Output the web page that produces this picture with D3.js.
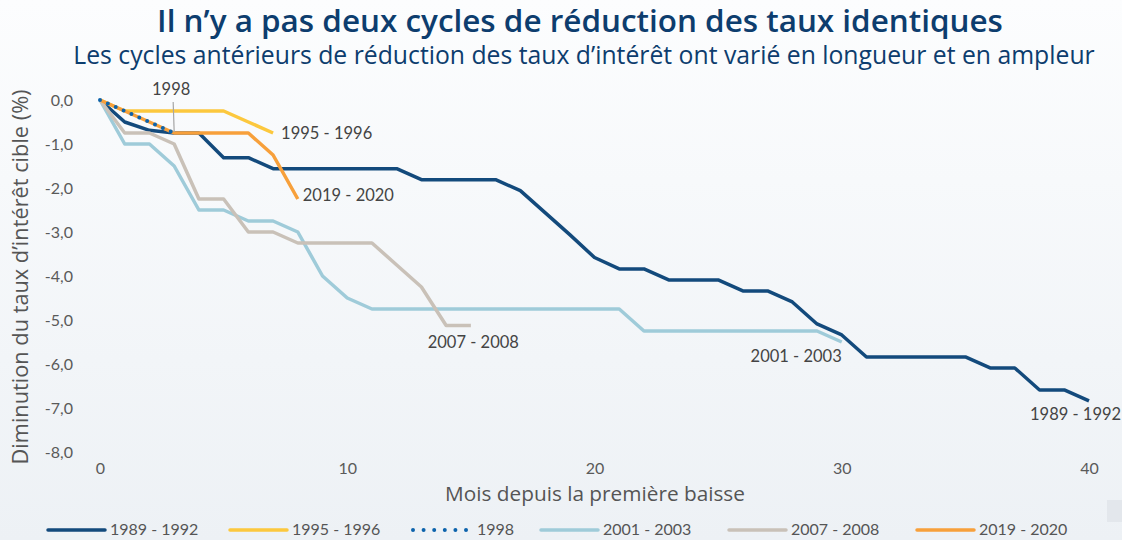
<!DOCTYPE html>
<html>
<head>
<meta charset="utf-8">
<script src="https://cdn.jsdelivr.net/npm/d3@7"></script>
<style>
  html, body { margin: 0; padding: 0; }
  body { width: 1122px; height: 540px; overflow: hidden; }
  svg { display: block; }
</style>
</head>
<body>
<svg id="chart"></svg>
<script>
// months since first cut
const months = d3.range(0, 41);

// cumulative change in target rate (%), one value per month
const cycle1989 = [0, -0.5, -0.69, -0.75, -0.75, -1.31, -1.31, -1.56, -1.56, -1.56, -1.56, -1.56, -1.56,
  -1.81, -1.81, -1.81, -1.81, -2.06, -2.56, -3.06, -3.58, -3.84, -3.84, -4.09, -4.09, -4.09,
  -4.34, -4.34, -4.59, -5.09, -5.34, -5.84, -5.84, -5.84, -5.84, -5.84, -6.09, -6.09, -6.59, -6.59, -6.84];
const cycle1995 = [0, -0.25, -0.25, -0.25, -0.25, -0.25, -0.5, -0.75];
const cycle1998 = [0, -0.25, -0.5, -0.75];
const cycle2001 = [0, -1.0, -1.0, -1.5, -2.5, -2.5, -2.75, -2.75, -3.0, -4.0, -4.5, -4.75, -4.75, -4.75,
  -4.75, -4.75, -4.75, -4.75, -4.75, -4.75, -4.75, -4.75, -5.25, -5.25, -5.25, -5.25, -5.25,
  -5.25, -5.25, -5.25, -5.5];
const cycle2007 = [0, -0.75, -0.75, -1.0, -2.25, -2.25, -3.0, -3.0, -3.25, -3.25, -3.25, -3.25, -3.75,
  -4.25, -5.125, -5.125];
const cycle2019 = [0, -0.25, -0.5, -0.75, -0.75, -0.75, -0.75, -1.25, -2.25];

const seriesNames = ['1989 - 1992', '1995 - 1996', '1998', '2001 - 2003', '2007 - 2008', '2019 - 2020'];
const seriesValues = [cycle1989, cycle1995, cycle1998, cycle2001, cycle2007, cycle2019];
const seriesColors = ['#134a7c', '#fcc83e', '#0c63ac', '#9fcbd9', '#c9c1b8', '#f7a03b'];

const xTicks = [0, 10, 20, 30, 40];
const yTicks = [0, -1, -2, -3, -4, -5, -6, -7, -8];

const width = 1122, height = 540;
const margin = { top: 100, right: 33, bottom: 88, left: 100 };

const locale = d3.formatLocale({ decimal: ',', thousands: ' ', grouping: [3], currency: ['', ' €'], minus: '-' });
const fmtY = locale.format('.1f');

const svg = d3.select('#chart')
  .attr('width', width)
  .attr('height', height)
  .style('font-family', 'Lato, "Open Sans", sans-serif');

// soft background gradient
const grad = svg.append('defs').append('linearGradient')
  .attr('id', 'bg')
  .attr('x1', 0).attr('y1', 0).attr('x2', 0).attr('y2', 1);
grad.append('stop').attr('offset', '0%').attr('stop-color', '#fcfdfe');
grad.append('stop').attr('offset', '100%').attr('stop-color', '#edf1f5');
svg.append('rect').attr('width', width).attr('height', height).attr('fill', 'url(#bg)');

const x = d3.scaleLinear()
  .domain([0, 40])
  .range([margin.left, width - margin.right]);

const y = d3.scaleLinear()
  .domain([-8, 0])
  .range([height - margin.bottom, margin.top]);

// scale a text's font so it spans the width seen in the original
const fitWidth = (sel, target) => {
  const size = parseFloat(sel.style('font-size'));
  const len = sel.node().getComputedTextLength();
  sel.style('font-size', `${(size * target / len).toFixed(2)}px`);
};

// titles
svg.append('text')
  .attr('x', 580).attr('y', 32)
  .attr('text-anchor', 'middle')
  .attr('fill', '#0d3d6e')
  .style('font-family', '"Open Sans", sans-serif')
  .style('font-size', '27px')
  .style('font-weight', 600)
  .text('Il n’y a pas deux cycles de réduction des taux identiques')
  .call(fitWidth, 846);

svg.append('text')
  .attr('x', 584).attr('y', 64)
  .attr('text-anchor', 'middle')
  .attr('fill', '#0d3d6e')
  .style('font-family', '"Open Sans", sans-serif')
  .style('font-size', '21px')
  .text('Les cycles antérieurs de réduction des taux d’intérêt ont varié en longueur et en ampleur')
  .call(fitWidth, 1022);

// axes
const yAxis = (g) => g
  .attr('transform', `translate(${margin.left},0)`)
  .call(d3.axisLeft(y).tickValues(yTicks).tickFormat(fmtY).tickSize(0).tickPadding(27))
  .call((g) => g.select('.domain').remove());

const xAxis = (g) => g
  .attr('transform', `translate(0,${height - margin.bottom})`)
  .call(d3.axisBottom(x).tickValues(xTicks).tickSize(0).tickPadding(11))
  .call((g) => g.select('.domain').remove());

svg.append('g').call(yAxis);
svg.append('g').call(xAxis);

svg.selectAll('.tick text')
  .attr('fill', '#5a5a5a')
  .style('font-size', '16px')
  .style('font-family', 'Lato, sans-serif');

svg.append('text')
  .attr('transform', 'translate(28,277) rotate(-90)')
  .attr('text-anchor', 'middle')
  .attr('fill', '#555')
  .style('font-family', '"Open Sans", sans-serif')
  .style('font-size', '19px')
  .text('Diminution du taux d’intérêt cible (%)')
  .call(fitWidth, 375);

svg.append('text')
  .attr('x', 595).attr('y', 501)
  .attr('text-anchor', 'middle')
  .attr('fill', '#555')
  .style('font-family', '"Open Sans", sans-serif')
  .style('font-size', '19px')
  .text('Mois depuis la première baisse')
  .call(fitWidth, 300);

// lines
const line = d3.line()
  .x((d, i) => x(months[i]))
  .y((d) => y(d));

const drawOrder = [0, 1, 3, 4, 5, 2];
drawOrder.forEach((k) => {
  const p = svg.append('path')
    .datum(seriesValues[k])
    .attr('fill', 'none')
    .attr('stroke', seriesColors[k])
    .attr('stroke-width', 3.5)
    .attr('stroke-linejoin', 'round')
    .attr('d', line);
  if (k === 2) {
    p.attr('stroke-width', 4)
      .attr('stroke-linecap', 'round')
      .attr('stroke-dasharray', '0 8.6');
  }
});

// line-end labels
const labelOffsets = [
  { dx: -59, dy: 13, anchor: 'start' },
  { dx: 8, dy: 0, anchor: 'start' },
  null,
  { dx: 0, dy: 14, anchor: 'end' },
  { dx: 48, dy: 17, anchor: 'end' },
  { dx: 5, dy: -4, anchor: 'start' },
];

seriesValues.forEach((vals, k) => {
  const o = labelOffsets[k];
  if (!o) return;
  const last = vals.length - 1;
  svg.append('text')
    .attr('x', x(months[last]) + o.dx)
    .attr('y', y(vals[last]) + o.dy)
    .attr('dy', '0.35em')
    .attr('text-anchor', o.anchor)
    .attr('fill', '#444')
    .style('font-size', '16.5px')
    .text(seriesNames[k]);
});

// 1998 callout with leader line
const last98 = cycle1998.length - 1;
svg.append('line')
  .attr('x1', x(months[last98])).attr('y1', y(cycle1998[last98]) - 1)
  .attr('x2', x(months[last98]) - 1).attr('y2', y(cycle1998[last98]) - 31)
  .attr('stroke', '#a6a6a6')
  .attr('stroke-width', 1.2);
svg.append('text')
  .attr('x', x(months[last98]) - 3)
  .attr('y', y(cycle1998[last98]) - 44)
  .attr('dy', '0.35em')
  .attr('text-anchor', 'middle')
  .attr('fill', '#444')
  .style('font-size', '16.5px')
  .text('1998');

// legend
const legendX = [48, 230, 413, 541, 729, 917];
const legend = svg.append('g')
  .selectAll('g')
  .data(seriesNames)
  .join('g')
  .attr('transform', (d, i) => `translate(${legendX[i]},530)`);

legend.append('line')
  .attr('x1', 0).attr('x2', (d, i) => (i === 2 ? 54 : 57))
  .attr('stroke', (d, i) => seriesColors[i])
  .attr('stroke-width', (d, i) => (i === 2 ? 4 : 3.5))
  .attr('stroke-linecap', 'round')
  .attr('stroke-dasharray', (d, i) => (i === 2 ? '0 10.6' : null));

legend.append('text')
  .attr('x', (d, i) => (i === 2 ? 64 : 62))
  .attr('dy', '0.33em')
  .attr('fill', '#555')
  .style('font-size', '16px')
  .text((d) => d);

// little grey tab bottom right
svg.append('rect')
  .attr('x', 1107).attr('y', 500)
  .attr('width', 15).attr('height', 22)
  .attr('fill', '#e3e7ec');
</script>
</body>
</html>
